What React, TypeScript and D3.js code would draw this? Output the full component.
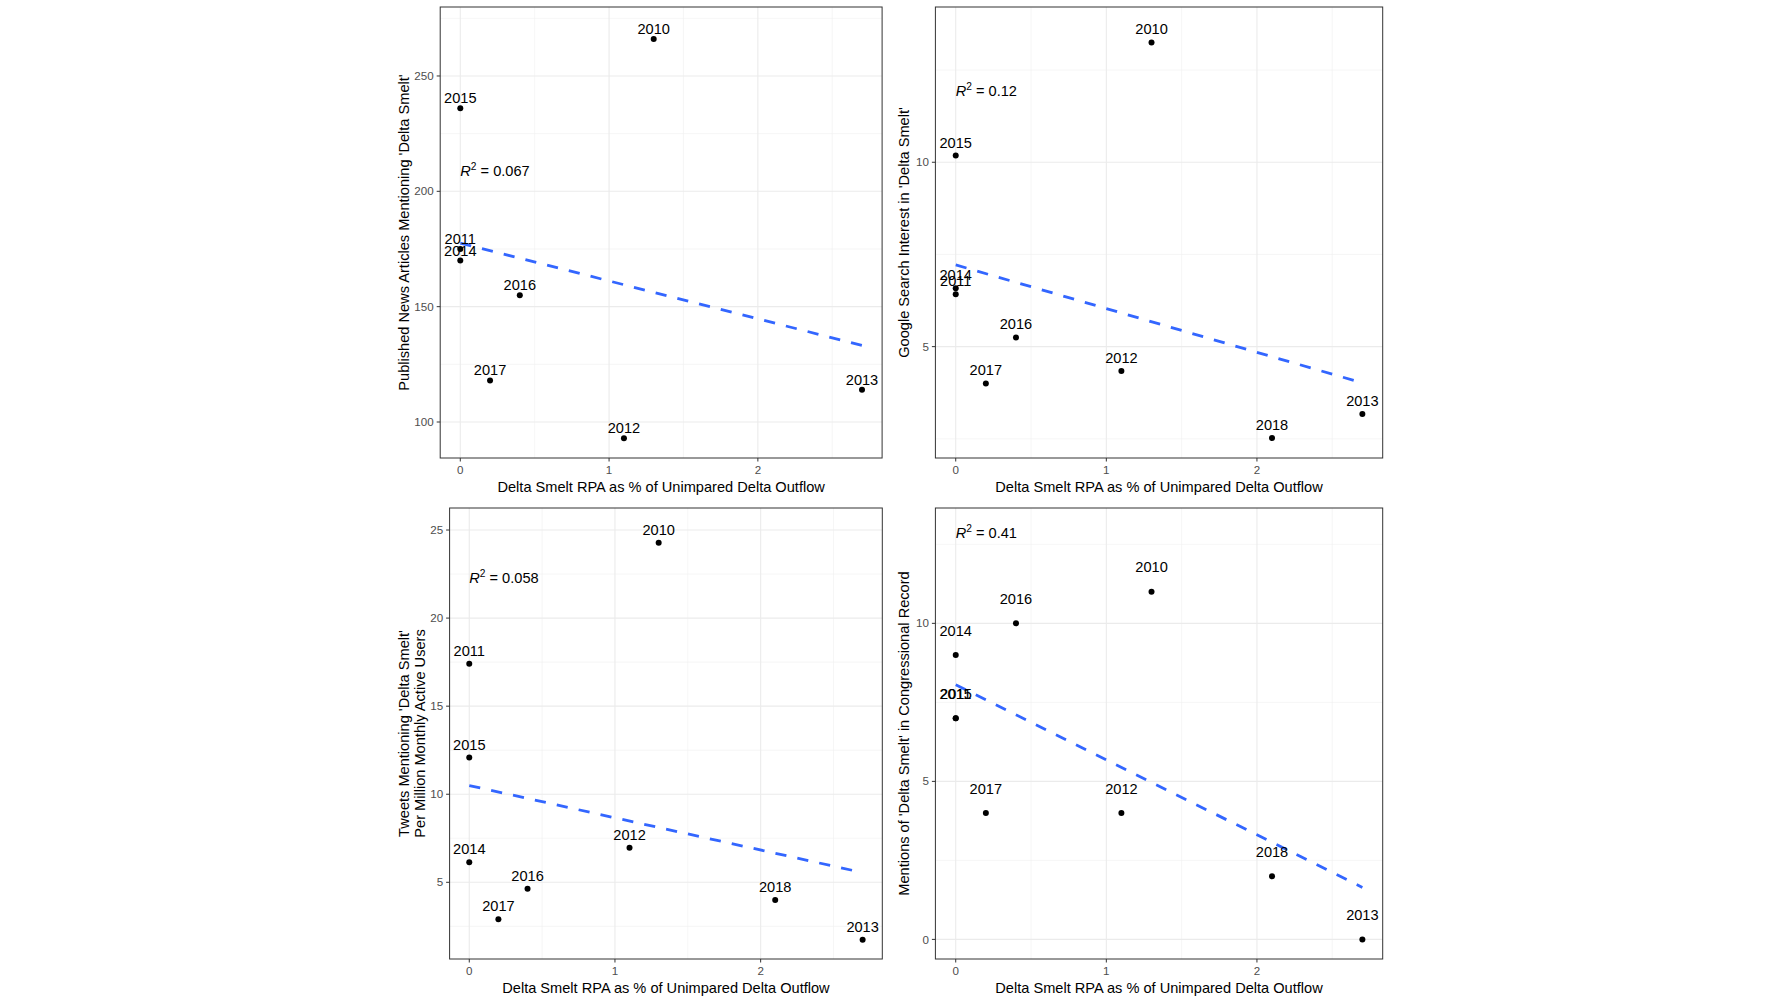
import React from "react";
import * as d3 from "d3";

// years shared by all four panels
const years = [2010, 2011, 2012, 2013, 2014, 2015, 2016, 2017, 2018];
// Delta Smelt RPA as % of unimpaired Delta outflow
const rpaPercent = [1.3, 0, 1.1, 2.7, 0, 0, 0.4, 0.2, 2.1];

// outcome series (null = no value for that year)
const newsArticles = [266, 175, 93, 114, 170, 236, 155, 118, null];
const googleSearch = [13.25, 6.42, 4.34, 3.17, 6.58, 10.18, 5.25, 4.0, 2.52];
const tweets = [24.28, 17.41, 6.96, 1.74, 6.14, 12.09, 4.64, 2.9, 4.0];
const congressMentions = [11, 7, 4, 0, 9, 7, 10, 4, 2];

const r2Values = ["0.067", "0.12", "0.058", "0.41"];
const r2LabelY = [208.8, 11.94, 22.3, 12.88];

const xTicks = [0, 1, 2];
const xTitle = "Delta Smelt RPA as % of Unimpared Delta Outflow";

const FONT = "'Liberation Sans', Arial, Helvetica, sans-serif";
const W = 1781;
const H = 1002;

const panels = [
  {
    values: newsArticles,
    left: 440.2, right: 882.1, top: 7, bottom: 458,
    yDomain: [84.4, 279.9],
    yTicks: [100, 150, 200, 250],
    yTitle: ["Published News Articles Mentioning 'Delta Smelt'"],
    titleX: 404,
    labelLift: 10.2,
  },
  {
    values: googleSearch,
    left: 935.4, right: 1382.7, top: 7, bottom: 458,
    yDomain: [1.98, 14.21],
    yTicks: [5, 10],
    yTitle: ["Google Search Interest in 'Delta Smelt'"],
    titleX: 903.3,
    labelLift: 13.3,
  },
  {
    values: tweets,
    left: 449.6, right: 882.3, top: 508, bottom: 959,
    yDomain: [0.646, 26.25],
    yTicks: [5, 10, 15, 20, 25],
    yTitle: ["Tweets Mentioning 'Delta Smelt'", "Per Million Monthly Active Users"],
    titleX: 404,
    labelLift: 13,
  },
  {
    values: congressMentions,
    left: 935.4, right: 1382.7, top: 508, bottom: 959,
    yDomain: [-0.62, 13.65],
    yTicks: [0, 5, 10],
    yTitle: ["Mentions of 'Delta Smelt' in Congressional Record"],
    titleX: 904,
    labelLift: 24.6,
  },
];

const xDomain = [-0.135, 2.835];

// halfway breaks between majors, kept only if inside the limits
function minorBreaks(major, domain) {
  const step = major[1] - major[0];
  const out = [];
  for (let v = major[0] - step / 2; v <= domain[1]; v += step) {
    if (v >= domain[0] && v <= domain[1]) out.push(v);
  }
  return out;
}

function fitLine(pts) {
  const mx = d3.mean(pts, (d) => d.x);
  const my = d3.mean(pts, (d) => d.y);
  const sxy = d3.sum(pts, (d) => (d.x - mx) * (d.y - my));
  const sxx = d3.sum(pts, (d) => (d.x - mx) ** 2);
  const slope = sxy / sxx;
  return { slope, intercept: my - slope * mx };
}

function Panel({ cfg, r2, r2y }) {
  const x = d3.scaleLinear().domain(xDomain).range([cfg.left, cfg.right]);
  const y = d3.scaleLinear().domain(cfg.yDomain).range([cfg.bottom, cfg.top]);

  const pts = years
    .map((yr, i) => ({ year: yr, x: rpaPercent[i], y: cfg.values[i] }))
    .filter((d) => d.y !== null && d.y !== undefined);

  const { slope, intercept } = fitLine(pts);
  const [x0, x1] = d3.extent(pts, (d) => d.x);
  const line = d3
    .line()
    .x((d) => x(d[0]))
    .y((d) => y(d[1]));
  const fit = line([
    [x0, intercept + slope * x0],
    [x1, intercept + slope * x1],
  ]);

  const xMinor = minorBreaks(xTicks, xDomain);
  const yMinor = minorBreaks(cfg.yTicks, cfg.yDomain);
  const midY = (cfg.top + cfg.bottom) / 2;
  const midX = (cfg.left + cfg.right) / 2;

  return (
    <g>
      {/* grid */}
      {yMinor.map((v) => (
        <line key={"ym" + v} x1={cfg.left} x2={cfg.right} y1={y(v)} y2={y(v)} stroke="#f0f0f0" strokeWidth={0.6} />
      ))}
      {xMinor.map((v) => (
        <line key={"xm" + v} x1={x(v)} x2={x(v)} y1={cfg.top} y2={cfg.bottom} stroke="#f0f0f0" strokeWidth={0.6} />
      ))}
      {cfg.yTicks.map((v) => (
        <line key={"yg" + v} x1={cfg.left} x2={cfg.right} y1={y(v)} y2={y(v)} stroke="#ebebeb" strokeWidth={1.1} />
      ))}
      {xTicks.map((v) => (
        <line key={"xg" + v} x1={x(v)} x2={x(v)} y1={cfg.top} y2={cfg.bottom} stroke="#ebebeb" strokeWidth={1.1} />
      ))}

      {/* regression line */}
      <path d={fit} fill="none" stroke="#3366FF" strokeWidth={2.8} strokeDasharray="11.2 11.2" />

      {/* points and year labels */}
      {pts.map((d) => (
        <circle key={"p" + d.year} cx={x(d.x)} cy={y(d.y)} r={3} fill="#000" />
      ))}
      {pts.map((d) => (
        <text
          key={"t" + d.year}
          x={x(d.x)}
          y={y(d.y) - cfg.labelLift + 5.2}
          textAnchor="middle"
          fontSize={14.6}
          fill="#000"
        >
          {d.year}
        </text>
      ))}

      {/* R squared */}
      <text x={x(0)} y={y(r2y) + 5.2} fontSize={14.6} fill="#000">
        <tspan fontStyle="italic">R</tspan>
        <tspan fontSize={10.2} dy={-6}>2</tspan>
        <tspan dy={6}>{" = " + r2}</tspan>
      </text>

      {/* border */}
      <rect
        x={cfg.left}
        y={cfg.top}
        width={cfg.right - cfg.left}
        height={cfg.bottom - cfg.top}
        fill="none"
        stroke="#333333"
        strokeWidth={1}
      />

      {/* y axis */}
      {cfg.yTicks.map((v) => (
        <g key={"yt" + v}>
          <line x1={cfg.left - 3.5} x2={cfg.left} y1={y(v)} y2={y(v)} stroke="#333333" strokeWidth={1} />
          <text x={cfg.left - 6.5} y={y(v) + 4.1} textAnchor="end" fontSize={11.6} fill="#4d4d4d">
            {v}
          </text>
        </g>
      ))}
      {/* x axis */}
      {xTicks.map((v) => (
        <g key={"xt" + v}>
          <line x1={x(v)} x2={x(v)} y1={cfg.bottom} y2={cfg.bottom + 3.5} stroke="#333333" strokeWidth={1} />
          <text x={x(v)} y={cfg.bottom + 16} textAnchor="middle" fontSize={11.6} fill="#4d4d4d">
            {v}
          </text>
        </g>
      ))}

      {/* titles */}
      <text x={midX} y={cfg.bottom + 34} textAnchor="middle" fontSize={14.6} fill="#000">
        {xTitle}
      </text>
      {cfg.yTitle.map((t, i) => (
        <text
          key={"ytl" + i}
          transform={`translate(${cfg.titleX + 5.2 + i * 15.3},${midY}) rotate(-90)`}
          textAnchor="middle"
          fontSize={14.6}
          fill="#000"
        >
          {t}
        </text>
      ))}
    </g>
  );
}

export default function App() {
  return (
    <svg
      width={W}
      height={H}
      style={{ position: "absolute", left: 0, top: 0, background: "#fff" }}
      fontFamily={FONT}
    >
      <rect width={W} height={H} fill="#fff" />
      {panels.map((cfg, i) => (
        <Panel key={i} cfg={cfg} r2={r2Values[i]} r2y={r2LabelY[i]} />
      ))}
    </svg>
  );
}
